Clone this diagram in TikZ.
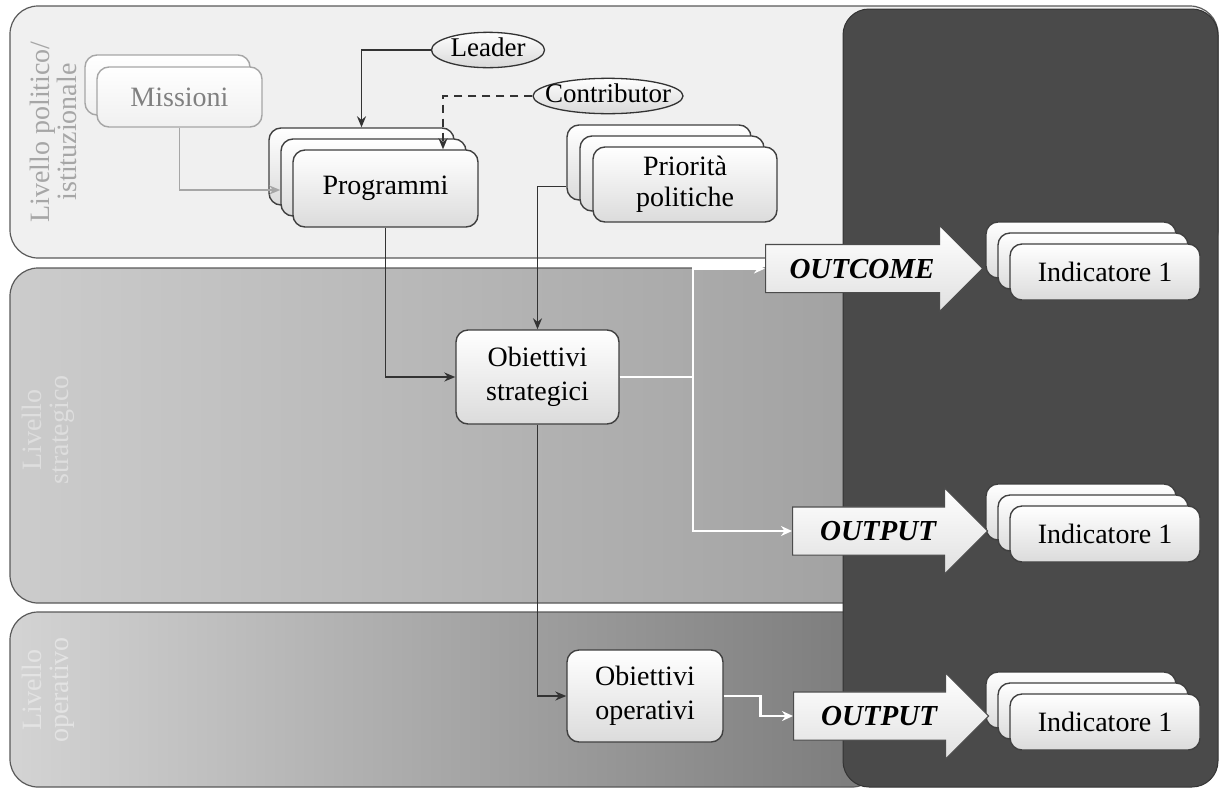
\documentclass[tikz,border=0pt]{standalone}
\usepackage{fontspec}
\setmainfont{Liberation Serif}
\usetikzlibrary{shapes.geometric,shapes.arrows,arrows.meta}
\begin{document}
\begin{tikzpicture}[x=1pt,y=-1pt,
  band/.style={draw=black!65, line width=1.2pt, rounded corners=28pt},
  box/.style={draw=black!75, line width=1.4pt, rounded corners=12pt, top color=white, bottom color=black!14, align=center, inner sep=0pt, font=\fontsize{28}{34}\selectfont},
  fadedbox/.style={box, draw=black!35, bottom color=black!6, text=black!50},
  oval/.style={ellipse, draw=black!80, line width=1.3pt, top color=white, bottom color=black!15, inner sep=0pt, text height=19pt, text depth=6pt, font=\fontsize{27}{28}\selectfont},
  bigarrow/.style={single arrow, draw=black!70, line width=1.2pt, top color=white, bottom color=black!12, font=\fontsize{29}{30}\selectfont\bfseries\itshape, text height=19pt, text depth=0pt, inner xsep=0pt, inner ysep=14pt, single arrow head extend=19pt, single arrow tip angle=90, anchor=tail},
  conn/.style={draw=black!80, line width=1.6pt, -{Stealth[length=11pt,width=9pt]}},
  wconn/.style={draw=white, line width=2.6pt, -{Stealth[length=11pt,width=10pt]}},
  lvl/.style={rotate=90, align=center, font=\fontsize{28}{27}\selectfont}
]
\useasboundingbox (0,0) rectangle (1222,793);
% bands
\path[band, fill=black!6] (10,6) rectangle (1218,258);
\path[band, left color=black!20, right color=black!37] (10,268) rectangle (880,603);
\path[band, left color=black!17, right color=black!52] (10,612) rectangle (880,787);
\path[draw=black!80, line width=1pt, fill=black!71, rounded corners=26pt] (843,9) rectangle (1218,787);
% level labels
\node[lvl, text=black!35] (l1) at (53,132) {Livello politico/\\istituzionale};
\node[lvl, text=black!13] (l2) at (48,430) {Livello\\strategico};
\node[lvl, text=black!11] (l3) at (48,690) {Livello\\operativo};
% top level
\node[fadedbox, minimum width=165pt, minimum height=60pt] (miss2) at (167.5,85) {};
\node[fadedbox, minimum width=165pt, minimum height=60pt] (miss1) at (179.5,97) {Missioni};
\node[box, minimum width=185pt, minimum height=77pt] (prog3) at (361.5,166.5) {};
\node[box, minimum width=185pt, minimum height=77pt] (prog2) at (373.5,177.5) {};
\node[box, minimum width=185pt, minimum height=77pt] (prog1) at (385.5,188.5) {Programmi};
\node[box, minimum width=184pt, minimum height=75pt] (prio3) at (659,162.5) {};
\node[box, minimum width=184pt, minimum height=75pt] (prio2) at (672,173.5) {};
\node[box, minimum width=184pt, minimum height=75pt, font=\fontsize{28}{31}\selectfont] (prio1) at (685,184.5) {Priorità\\politiche};
\node[oval, minimum width=113pt, minimum height=35pt] (leader) at (488,50) {\makebox[70pt]{Leader}};
\node[oval, minimum width=150pt, minimum height=35pt] (contrib) at (608,96) {\makebox[100pt]{Contributor}};
% objectives
\node[box, minimum width=163pt, minimum height=94pt] (os) at (537.5,377) {Obiettivi\\strategici};
\node[box, minimum width=156pt, minimum height=92pt] (oo) at (645,696) {Obiettivi\\operativi};
% indicators
\foreach \n/\cy in {1/272,2/534,3/722}{
  \node[box, minimum width=190pt, minimum height=56pt] (ind\n c) at (1081,\cy-22) {};
  \node[box, minimum width=190pt, minimum height=56pt] (ind\n b) at (1093,\cy-11) {};
  \node[box, minimum width=190pt, minimum height=56pt] (ind\n a) at (1105,\cy) {Indicatore 1};
}
% big arrows
\node[bigarrow, minimum height=217pt] (outcome) at (765,268.5) {OUTCOME};
\node[bigarrow, minimum height=195pt] (output1) at (792,531) {OUTPUT};
\node[bigarrow, minimum height=195pt] (output2) at (793,716) {OUTPUT};
% connectors
\draw[conn] (leader.west) -| (prog3.north);
\draw[conn, dash pattern=on 8pt off 6pt] (contrib.west) -| ([xshift=57.5pt]prog1.north);
\draw[conn, draw=black!35] (miss1.south) |- ([yshift=-12.5pt]prog2.west);
\draw[conn] (prog1.south) |- (os.west);
\draw[conn] ([yshift=-24pt]prio3.west) -| (os.north);
\draw[conn] (os.south) |- (oo.west);
\coordinate (split) at (693,377);
\draw[wconn] (os.east) -- (split) |- (outcome.tail);
\draw[wconn] (split) |- (output1.tail);
\draw[wconn] (oo.east) -- ++(37,0) |- (output2.tail);
\end{tikzpicture}
\end{document}
